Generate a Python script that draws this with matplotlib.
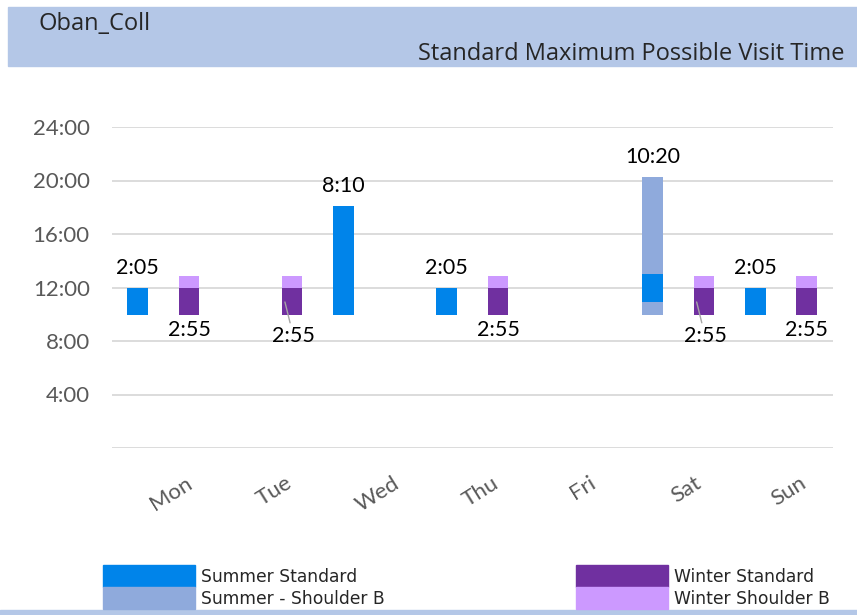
import matplotlib
matplotlib.use('Agg')
import matplotlib.pyplot as plt
import matplotlib.transforms as mtransforms
from matplotlib.patches import Rectangle
import numpy as np

plt.rcParams['font.family'] = ['Lato', 'DejaVu Sans']

# visit windows per day (start / end clock times)
days = ['Mon', 'Tue', 'Wed', 'Thu', 'Fri', 'Sat', 'Sun']
summer_std_start = ['9:55', None, '9:55', '9:55', None, '10:55', '9:55']
summer_std_end = ['12:00', None, '18:05', '12:00', None, '13:00', '12:00']
summer_shb_start = [None, None, None, None, None, '9:55', None]
summer_shb_end = [None, None, None, None, None, '20:15', None]
winter_std_start = ['9:55', '9:55', None, '9:55', None, '9:55', '9:55']
winter_std_end = ['12:00', '12:00', None, '12:00', None, '12:00', '12:00']
winter_shb_start = ['9:55', '9:55', None, '9:55', None, '9:55', '9:55']
winter_shb_end = ['12:50', '12:50', None, '12:50', None, '12:50', '12:50']
summer_labels = ['2:05', '', '8:10', '2:05', '', '10:20', '2:05']
winter_labels = ['2:55', '2:55', '', '2:55', '', '2:55', '2:55']

C_SUM_STD = '#0084EA'
C_SUM_SHB = '#8FAADC'
C_WIN_STD = '#7030A0'
C_WIN_SHB = '#CC99FF'
BAND = '#B4C7E7'


def to_hours(vals):
    out = []
    for v in vals:
        if v is None:
            out.append(np.nan)
        else:
            h, m = v.split(':')
            out.append(int(h) + int(m) / 60)
    return np.array(out)


x = np.arange(len(days))
W, H = 857, 615
fig = plt.figure(figsize=(W / 100, H / 100), dpi=100)
ax = fig.add_axes([112 / W, 1 - 448 / H, 720.5 / W, 321 / H])
ax.set_xlim(-0.5, 6.5)
ax.set_ylim(0, 24)


def floating(xpos, starts, ends, color):
    s = to_hours(starts)
    e = to_hours(ends)
    ok = ~np.isnan(s)
    ax.bar(xpos[ok], e[ok] - s[ok], bottom=s[ok], width=0.2, color=color, zorder=3)
    return s, e


ss, se = floating(x - 0.25, summer_shb_start, summer_shb_end, C_SUM_SHB)
s0, e0 = floating(x - 0.25, summer_std_start, summer_std_end, C_SUM_STD)
ws, we = floating(x + 0.25, winter_shb_start, winter_shb_end, C_WIN_SHB)
floating(x + 0.25, winter_std_start, winter_std_end, C_WIN_STD)

# labels above summer bars
for i, lab in enumerate(summer_labels):
    if lab:
        top = np.nanmax([se[i], e0[i]])
        ax.annotate(lab, (x[i] - 0.25, top), xytext=(0, 7), textcoords='offset points',
                    ha='center', va='bottom', fontsize=15.5, color='#000000', zorder=5)

# labels below winter bars (two of them pulled down with a leader line)
leader_days = ('Tue', 'Sat')
for i, lab in enumerate(winter_labels):
    if lab:
        bot = ws[i]
        if days[i] in leader_days:
            ax.annotate(lab, (x[i] + 0.18, bot + 1.0), xytext=(6, -17), textcoords='offset points',
                        ha='center', va='top', fontsize=15.5, zorder=5,
                        arrowprops=dict(arrowstyle='-', color='#A6A6A6', lw=1, shrinkA=0, shrinkB=0))
        else:
            ax.annotate(lab, (x[i] + 0.25, bot), xytext=(0, -3), textcoords='offset points',
                        ha='center', va='top', fontsize=15.5, zorder=5)

ax.set_yticks(np.arange(4, 25, 4))
ax.set_yticklabels([f'{v}:00' for v in range(4, 25, 4)])
ax.yaxis.grid(True, color='#D9D9D9', lw=1.3, zorder=0)
ax.axhline(0, color='#D9D9D9', lw=1.3, zorder=0)
for sp in ax.spines.values():
    sp.set_visible(False)
ax.tick_params(axis='y', length=0, pad=16, labelsize=16, labelcolor='#595959')
ax.tick_params(axis='x', length=0, pad=18, labelsize=16, labelcolor='#595959')
ax.set_xticks(x)
ax.set_xticklabels(days, rotation=32, ha='center', va='top')
shift = mtransforms.ScaledTranslation(8 / 100, 0, fig.dpi_scale_trans)
for t in ax.get_xticklabels():
    t.set_transform(t.get_transform() + shift)

# header band and titles
fig.patches.append(Rectangle((8 / W, 1 - 66 / H), 1, 59 / H, transform=fig.transFigure,
                             color=BAND, zorder=0))
fig.patches.append(Rectangle((0, 0), 1, 5 / H, transform=fig.transFigure, color=BAND, zorder=0))
fig.text(39 / W, 1 - 24 / H, 'Oban_Coll', va='center', fontsize=17, color='#262626',
         family='Open Sans')
fig.text(418 / W, 1 - 54 / H, 'Standard Maximum Possible Visit Time', va='center',
         fontsize=17, color='#262626', family='Open Sans')

# legend drawn as swatches
legend_items = [('Summer Standard', C_SUM_STD, 103, 565), ('Summer - Shoulder B', C_SUM_SHB, 103, 587),
                ('Winter Standard', C_WIN_STD, 576, 565), ('Winter Shoulder B', C_WIN_SHB, 576, 587)]
for name, col, lx, ly in legend_items:
    fig.patches.append(Rectangle((lx / W, 1 - (ly + 22) / H), 92 / W, 22 / H,
                                 transform=fig.transFigure, color=col))
    fig.text((lx + 98) / W, 1 - (ly + 12) / H, name, va='center', fontsize=12.3,
             color='#262626', family='DejaVu Sans')

fig.savefig('out.png', dpi=100)
